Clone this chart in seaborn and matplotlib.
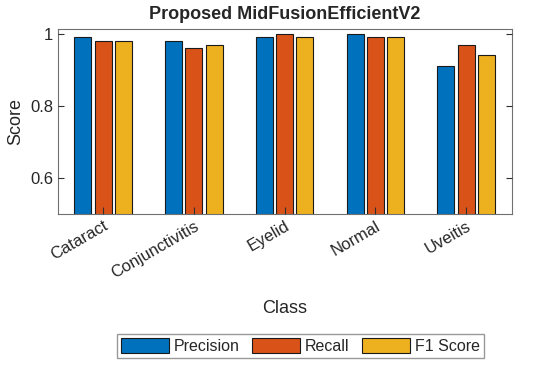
import matplotlib
matplotlib.use("Agg")
import matplotlib.pyplot as plt
import pandas as pd
import seaborn as sns

CLASSES = ["Cataract", "Conjunctivitis", "Eyelid", "Normal", "Uveitis"]
METRICS = ["Precision", "Recall", "F1 Score"]
PRECISION = [0.99, 0.98, 0.99, 1.00, 0.91]
RECALL = [0.98, 0.96, 1.00, 0.99, 0.97]
F1_SCORE = [0.98, 0.97, 0.99, 0.99, 0.94]
COLORS = ["#0072BD", "#D95319", "#EDB120"]

sns.set_theme(style="white")
plt.rcParams["font.family"] = ["Liberation Sans", "DejaVu Sans"]

df = pd.DataFrame(
    {
        "Class": CLASSES * 3,
        "Metric": [m for m in METRICS for _ in CLASSES],
        "Score": PRECISION + RECALL + F1_SCORE,
    }
)

fig, ax = plt.subplots(figsize=(5.5, 3.65), dpi=100)
sns.barplot(
    data=df,
    x="Class",
    y="Score",
    hue="Metric",
    palette=COLORS,
    saturation=1,
    width=0.67,
    gap=0.17,
    edgecolor="#1a1a1a",
    linewidth=0.8,
    ax=ax,
)

ax.set_xlim(-0.5, 4.5)
ax.set_ylim(0.5, 1.013)
ax.set_yticks([0.6, 0.8, 1.0])
ax.set_yticklabels(["0.6", "0.8", "1"])
ax.set_axisbelow(False)
ax.tick_params(axis="y", direction="in", length=4, width=0.8, color="#303030",
               labelsize=12, labelcolor="#262626", left=True, right=True)
ax.xaxis.set_ticks_position("bottom")
ax.tick_params(axis="x", which="major", direction="in", length=5, width=0.8,
               color="#303030", labelsize=12, labelcolor="#262626")
plt.setp(ax.get_xticklabels(), rotation=30, ha="right", rotation_mode="anchor")
for spine in ax.spines.values():
    spine.set_color("#707070")
    spine.set_linewidth(0.8)

ax.set_title("Proposed MidFusionEfficientV2", fontsize=13, fontweight="bold", pad=7)
ax.set_xlabel("Class", fontsize=13, color="#262626", labelpad=14)
ax.set_ylabel("Score", fontsize=13, color="#262626")

ax.legend(
    loc="upper center",
    bbox_to_anchor=(0.535, -0.61),
    ncol=3,
    fontsize=11.5,
    frameon=True,
    fancybox=False,
    edgecolor="#808080",
    handlelength=3.0,
    handleheight=1.1,
    handletextpad=0.3,
    columnspacing=0.8,
    borderpad=0.25,
)

fig.subplots_adjust(left=0.105, right=0.93, top=0.92, bottom=0.415)
fig.savefig("out.png", dpi=100)
